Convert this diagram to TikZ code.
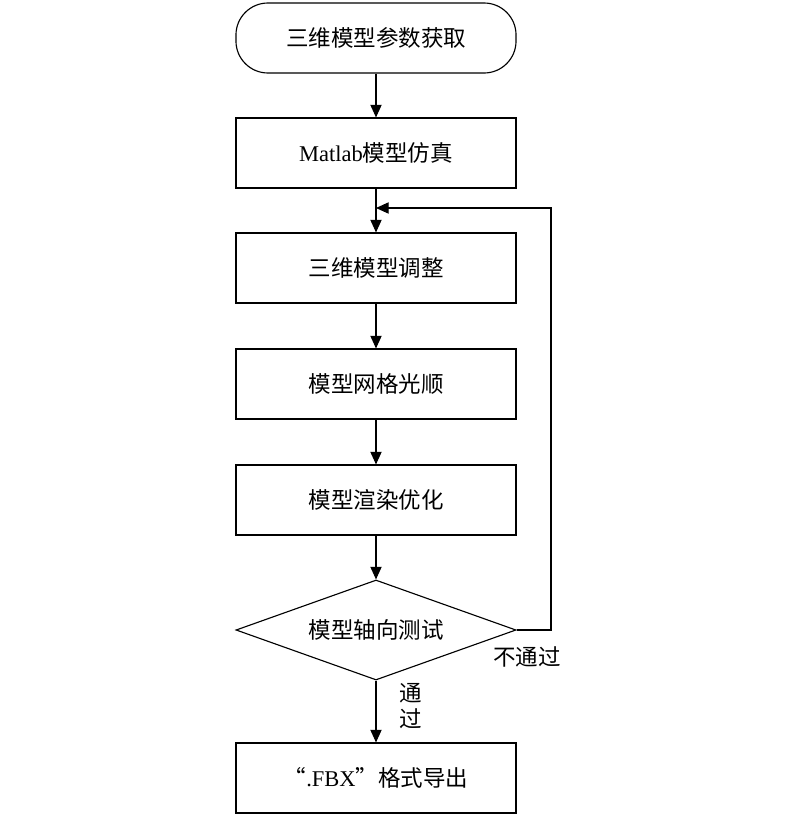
\documentclass[tikz,border=0pt]{standalone}
\usepackage{fontspec}
\setmainfont{Liberation Serif}
\newfontfamily\cjk{Noto Sans CJK SC}
\usetikzlibrary{shapes.geometric,arrows.meta,positioning}
\tikzset{
  stepbox/.style={draw,thick,minimum width=7cm,minimum height=1.75cm,font=\fontsize{16}{19}\selectfont},
  startbox/.style={stepbox,rounded corners=0.8cm},
  testbox/.style={draw,thick,diamond,aspect=2.8,inner sep=0pt,minimum width=7cm,minimum height=2.5cm,font=\fontsize{16}{19}\selectfont},
  flow/.style={thick,-{Triangle[length=9pt,width=8pt]}}
}
\begin{document}
\begin{tikzpicture}[x=0.025cm,y=-0.025cm]
	\useasboundingbox (0,0) rectangle (800,816);
	\node[startbox] (start) at (376,38) {\cjk 三维模型参数获取};
	\node[stepbox] (sim) at (376,153) {Matlab\cjk 模型仿真};
	\node[stepbox] (adjust) at (376,268) {\cjk 三维模型调整};
	\node[stepbox] (smooth) at (376,384) {\cjk 模型网格光顺};
	\node[stepbox] (render) at (376,500) {\cjk 模型渲染优化};
	\node[testbox] (test) at (376,630) {\cjk 模型轴向测试};
	\node[stepbox] (export) at (376,778) {{\cjk “}.FBX{\cjk ”格式导出}};
	\coordinate (loop) at (376,208);
	\draw[flow] (start) -- (sim);
	\draw[flow] (sim) -- (adjust);
	\draw[flow] (adjust) -- (smooth);
	\draw[flow] (smooth) -- (render);
	\draw[flow] (render) -- (test);
	\draw[flow] (test) -- (export);
	\node[font=\fontsize{16}{19}\selectfont,align=center] (pass) at (411,706) {\cjk 通\\\cjk 过};
	\draw[flow] (test.east) -- (551,630) -- (551,208) -- (loop);
	\node[font=\fontsize{16}{19}\selectfont] (fail) at (527,657) {\cjk 不通过};
\end{tikzpicture}
\end{document}
